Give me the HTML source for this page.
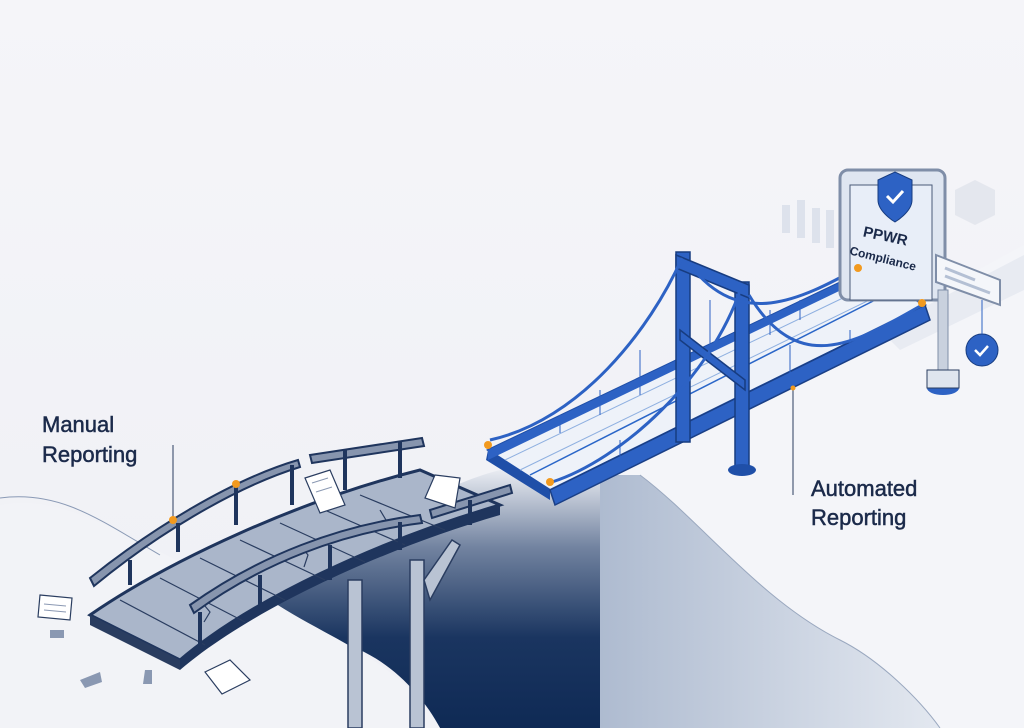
<!DOCTYPE html>
<html><head><meta charset="utf-8"><style>
html,body{margin:0;padding:0;background:#f3f3f7;}
svg{display:block}
text{font-family:"Liberation Sans",sans-serif;fill:#1b2a4a}
</style></head><body>
<svg width="1024" height="728" viewBox="0 0 1024 728" xmlns="http://www.w3.org/2000/svg">
<defs>
<linearGradient id="chasm" x1="0" y1="0" x2="0" y2="1">
<stop offset="0" stop-color="#e9ecf2"/><stop offset="0.3" stop-color="#7283a0"/><stop offset="0.65" stop-color="#1a3560"/><stop offset="1" stop-color="#0f2a55"/></linearGradient>
<linearGradient id="face" x1="0" y1="0" x2="1" y2="0">
<stop offset="0" stop-color="#aebbd0"/><stop offset="1" stop-color="#e3e8f0"/></linearGradient>
<linearGradient id="bg" x1="0" y1="0" x2="0" y2="1"><stop offset="0" stop-color="#f5f5f9"/><stop offset="1" stop-color="#eff0f5"/></linearGradient>
</defs>
<rect width="1024" height="728" fill="url(#bg)"/>
<polygon points="600,475 1024,245 1024,728 600,728" fill="#f4f5f9"/>
<polygon points="880,330 1024,255 1024,290 900,350" fill="#e3e7ef" opacity="0.7"/>
<path d="M270,600 C330,560 420,490 500,470 L600,475 L600,728 L440,728 C420,690 380,650 330,640 Z" fill="url(#chasm)"/>
<path d="M600,475 L640,475 C700,520 760,600 840,640 C880,660 920,700 940,728 L600,728 Z" fill="url(#face)"/>
<path d="M640,475 C700,520 760,600 840,640 C880,660 920,700 940,728" fill="none" stroke="#9aa8bf" stroke-width="1"/>
<path d="M0,728 L0,505 C80,490 150,560 270,600 C330,640 400,660 440,728 Z" fill="#f2f3f7"/>
<path d="M0,498 C60,490 100,520 160,555" fill="none" stroke="#8a9ab5" stroke-width="1"/>
<g fill="#dde2ec"><rect x="782" y="205" width="8" height="28"/><rect x="797" y="200" width="8" height="38"/><rect x="812" y="208" width="8" height="35"/><rect x="826" y="210" width="8" height="38"/></g>
<polygon points="955,190 975,180 995,190 995,215 975,225 955,215" fill="#e4e7ee"/>

<g fill="#b9c3d3" stroke="#2a3d60" stroke-width="1.5">
<rect x="348" y="580" width="14" height="148"/><rect x="410" y="560" width="14" height="168"/>
<polygon points="424,580 452,540 460,545 430,600"/>
</g>
<path d="M90,615 C170,560 300,500 420,470 L500,505 C380,540 250,600 180,660 Z" fill="#aab6ca" stroke="#1f355d" stroke-width="3"/>
<path d="M90,615 L90,625 L180,670 L180,660 Z" fill="#2a3d60"/>
<path d="M180,660 C250,600 380,540 500,505 L500,515 C380,550 250,610 180,670 Z" fill="#1f355d"/>
<g stroke="#2a3d60" stroke-width="1.2" fill="none">
<path d="M120,600 L205,645"/><path d="M160,578 L245,622"/><path d="M200,558 L285,600"/><path d="M240,540 L325,580"/><path d="M280,523 L365,562"/><path d="M320,508 L405,545"/><path d="M360,495 L445,530"/>
<path d="M200,600 l10,12 l-6,10"/><path d="M300,545 l8,10 l-4,12"/><path d="M380,510 l6,10"/>
</g>
<g stroke="#1f355d" stroke-width="2" fill="#8795ae">
<path d="M90,578 C150,530 230,480 298,460 L300,467 C232,488 152,538 94,586 Z"/>
<path d="M310,455 L422,438 L424,446 L312,463 Z"/>
</g>
<g stroke="#1f355d" stroke-width="4"><line x1="130" y1="560" x2="130" y2="585"/><line x1="178" y1="523" x2="178" y2="552"/><line x1="236" y1="487" x2="236" y2="525"/><line x1="292" y1="465" x2="292" y2="505"/><line x1="345" y1="450" x2="345" y2="490"/><line x1="400" y1="442" x2="400" y2="478"/></g>
<g stroke="#1f355d" stroke-width="2" fill="#8795ae">
<path d="M190,605 C260,555 340,525 420,515 L422,523 C342,533 262,563 194,613 Z"/>
<path d="M430,510 L510,485 L512,493 L432,518 Z"/>
</g>
<g stroke="#1f355d" stroke-width="4"><line x1="200" y1="612" x2="200" y2="645"/><line x1="260" y1="575" x2="260" y2="610"/><line x1="330" y1="545" x2="330" y2="580"/><line x1="400" y1="522" x2="400" y2="550"/><line x1="470" y1="500" x2="470" y2="525"/></g>
<g fill="#fff" stroke="#2a3d60" stroke-width="1.2">
<polygon points="305,478 330,470 345,505 320,513"/>
<polygon points="435,475 460,478 455,508 425,498"/>
<polygon points="40,595 72,598 70,620 38,617"/>
<polygon points="205,672 230,660 250,680 222,694"/>
</g>
<g stroke="#8a98b2" stroke-width="1"><line x1="312" y1="483" x2="328" y2="478"/><line x1="316" y1="492" x2="332" y2="487"/><line x1="44" y1="604" x2="66" y2="606"/><line x1="44" y1="610" x2="66" y2="612"/></g>
<g fill="#8a98b2"><rect x="50" y="630" width="14" height="8"/><polygon points="80,680 100,672 102,682 85,688"/><polygon points="145,670 152,670 152,684 143,684"/></g>

<polygon points="488,450 550,490 925,305 862,272" fill="#eef2f9" stroke="#1f4fa8" stroke-width="2"/>
<g stroke="#8fb0e0" stroke-width="1"><line x1="520" y1="470" x2="890" y2="290"/><line x1="505" y1="460" x2="870" y2="285"/></g>
<line x1="530" y1="475" x2="885" y2="295" stroke="#2a66c8" stroke-width="1.5"/>
<polygon points="488,450 550,490 550,500 486,460" fill="#1f4fa8"/>
<polygon points="550,490 925,305 930,320 555,505" fill="#2d62c4" stroke="#1a3f86" stroke-width="1.5"/>
<polygon points="488,450 862,272 862,280 488,460" fill="#2d62c4"/>
<g fill="#2d62c4" stroke="#173c80" stroke-width="1.5">
<rect x="676" y="252" width="14" height="190"/>
<rect x="735" y="282" width="14" height="190"/>
<polygon points="676,255 749,285 749,298 676,268"/>
<polygon points="680,330 745,380 745,390 680,340"/>
</g>
<ellipse cx="742" cy="470" rx="14" ry="6" fill="#1f4fa8"/>
<g fill="none" stroke="#2d62c4" stroke-width="3">
<path d="M490,440 C580,420 650,330 682,258"/>
<path d="M552,482 C620,460 710,380 741,288"/>
<path d="M690,265 C740,330 800,300 858,268"/>
<path d="M749,295 C800,380 860,340 922,305"/>
</g>
<g stroke="#2d62c4" stroke-width="1"><line x1="560" y1="415" x2="560" y2="433"/><line x1="600" y1="390" x2="600" y2="415"/><line x1="640" y1="350" x2="640" y2="395"/><line x1="710" y1="300" x2="710" y2="357"/><line x1="770" y1="310" x2="770" y2="335"/><line x1="800" y1="300" x2="800" y2="320"/><line x1="620" y1="440" x2="620" y2="456"/><line x1="680" y1="405" x2="680" y2="430"/><line x1="790" y1="345" x2="790" y2="375"/><line x1="850" y1="330" x2="850" y2="345"/></g>
<rect x="840" y="170" width="105" height="130" rx="8" fill="#dfe6f1" stroke="#7f8ea8" stroke-width="3"/>
<rect x="850" y="185" width="82" height="115" fill="#e8eef8" stroke="#4a5b78" stroke-width="1"/>
<rect x="938" y="290" width="10" height="80" fill="#c9d1de" stroke="#7f8ea8"/>
<ellipse cx="943" cy="388" rx="16" ry="7" fill="#2d62c4"/><rect x="927" y="370" width="32" height="18" fill="#dfe5ee" stroke="#2a3d60"/>
<path d="M878,180 L895,172 L912,180 L912,200 C912,212 895,222 895,222 C895,222 878,212 878,200 Z" fill="#2d62c4" stroke="#173c80"/>
<path d="M887,196 l6,6 l10,-11" stroke="#fff" stroke-width="3" fill="none"/>
<text x="862" y="240" font-size="15" font-weight="bold" transform="rotate(12 880 240)">PPWR</text>
<text x="848" y="262" font-size="12" font-weight="bold" transform="rotate(14 880 262)">Compliance</text>
<polygon points="936,255 1000,280 1000,305 936,282" fill="#f4f6fa" stroke="#7f8ea8" stroke-width="2"/>
<g stroke="#b4c0d4" stroke-width="3"><line x1="945" y1="268" x2="975" y2="280"/><line x1="945" y1="276" x2="990" y2="293"/></g>
<circle cx="982" cy="350" r="16" fill="#2d62c4" stroke="#173c80"/>
<path d="M975,350 l5,5 l8,-9" stroke="#fff" stroke-width="2.5" fill="none"/>
<line x1="982" y1="300" x2="982" y2="334" stroke="#2d62c4" stroke-width="1"/>
<g stroke="#1b2a4a" stroke-width="0.5">
<text x="42" y="432" font-size="22">Manual</text>
<text x="42" y="462" font-size="22">Reporting</text>
<text x="811" y="496" font-size="22">Automated</text>
<text x="811" y="525" font-size="22">Reporting</text>
</g>
<line x1="173" y1="445" x2="173" y2="520" stroke="#2a3d60" stroke-width="1"/>
<line x1="793" y1="388" x2="793" y2="495" stroke="#2a3d60" stroke-width="1"/>
<g fill="#f29a1f"><circle cx="173" cy="520" r="4"/><circle cx="236" cy="484" r="4"/><circle cx="488" cy="445" r="4"/><circle cx="550" cy="482" r="4"/><circle cx="858" cy="268" r="4"/><circle cx="922" cy="303" r="4"/><circle cx="793" cy="388" r="2.5"/></g>
</svg>
</body></html>
